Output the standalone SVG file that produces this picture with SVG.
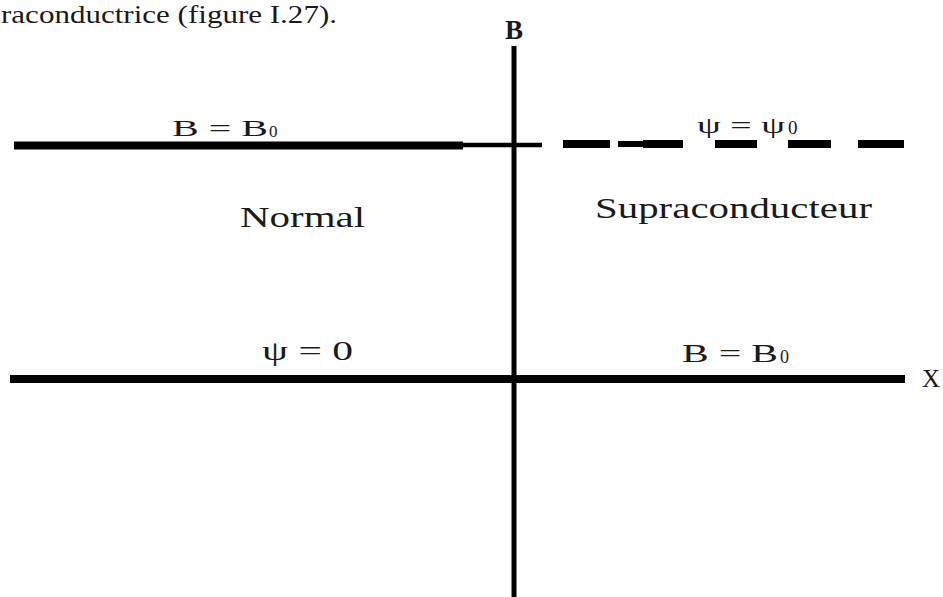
<svg xmlns="http://www.w3.org/2000/svg" width="943" height="597" viewBox="0 0 943 597">
<style>
.t{font-family:"Liberation Serif","Times New Roman",serif;fill:#1a1a1a}
.ax{stroke:#000;fill:none}
</style>
<rect width="943" height="597" fill="#fff"/>
<text class="t" x="1" y="23" font-size="26" textLength="336" lengthAdjust="spacingAndGlyphs">raconductrice (figure I.27).</text>
<g id="connectors">
<line class="ax" x1="514" y1="46" x2="514" y2="597" stroke-width="5"/>
<line class="ax" x1="14" y1="145.5" x2="463" y2="145.5" stroke-width="8"/>
<line class="ax" x1="463" y1="145" x2="542" y2="145" stroke-width="4.5"/>
<g stroke="#000" stroke-width="8">
<line x1="563" y1="144" x2="610" y2="144"/>
<line x1="618" y1="144" x2="643" y2="144" stroke-width="6"/>
<line x1="643" y1="144" x2="683" y2="144"/>
<line x1="715" y1="144" x2="757" y2="144"/>
<line x1="788" y1="144" x2="831" y2="144"/>
<line x1="858" y1="144" x2="904" y2="144"/>
</g>
<line class="ax" x1="10" y1="379" x2="905" y2="379" stroke-width="8"/>
</g>
<g id="axis-B"><text class="t" x="514" y="39" font-size="27" font-weight="bold" text-anchor="middle">B</text></g>
<g id="axis-X"><text class="t" x="922" y="387" font-size="25">X</text></g>
<g id="label-B0-top">
<text class="t" x="172" y="136" font-size="23" textLength="96" lengthAdjust="spacingAndGlyphs">B = B</text>
<text class="t" x="269" y="137" font-size="17">0</text>
</g>
<g id="label-psi0-top">
<text class="t" x="697" y="133" font-size="24" textLength="88" lengthAdjust="spacingAndGlyphs">ψ = ψ</text>
<text class="t" x="788" y="134" font-size="19">0</text>
</g>
<g id="region-normal"><text class="t" x="240" y="227" font-size="30" textLength="125" lengthAdjust="spacingAndGlyphs">Normal</text></g>
<g id="region-supra"><text class="t" x="595" y="218" font-size="30" textLength="277" lengthAdjust="spacingAndGlyphs">Supraconducteur</text></g>
<g id="label-psi-zero"><text class="t" x="262" y="360" font-size="27" textLength="91" lengthAdjust="spacingAndGlyphs">ψ = 0</text></g>
<g id="label-B0-bottom">
<text class="t" x="682" y="362" font-size="25" textLength="96" lengthAdjust="spacingAndGlyphs">B = B</text>
<text class="t" x="780" y="363" font-size="18">0</text>
</g>
</svg>
